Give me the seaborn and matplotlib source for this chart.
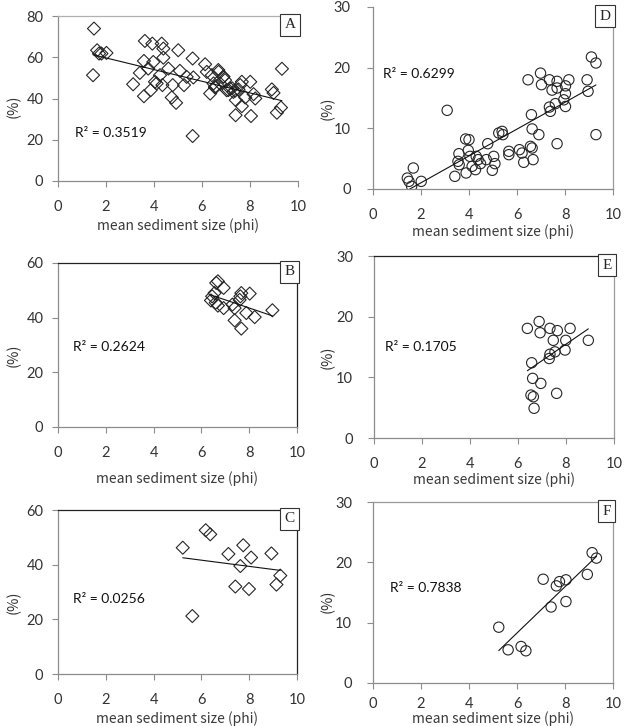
import matplotlib
matplotlib.use("Agg")
import matplotlib.pyplot as plt
import seaborn as sns
import pandas as pd

# Panel A: all samples (diamonds)
a_x = [1.50, 1.46, 1.63, 1.71, 1.81, 2.02, 3.13, 3.41, 3.58, 3.62,
       3.58, 3.93, 3.97, 3.86, 3.76, 4.04, 4.11, 4.25, 4.32, 4.39,
       4.39, 4.35, 4.60, 4.78, 4.74, 4.92, 5.01, 5.08, 5.25, 5.36,
       5.61, 5.64, 5.61, 6.13, 6.20, 6.34, 6.41, 6.48, 6.55, 6.69,
       6.75, 6.89, 6.96, 7.03, 7.17, 7.31, 7.41, 7.40, 7.52, 7.59,
       7.66, 7.66, 7.80, 8.01, 8.04, 8.15, 8.22, 8.91, 8.98, 9.12,
       9.29, 9.33, 6.68, 6.89, 6.54, 7.10, 7.25, 7.38]
a_y = [73.9, 51.3, 63.4, 61.8, 61.8, 62.1, 46.9, 52.4, 58.2, 67.9,
       41.1, 66.6, 57.7, 44.0, 54.5, 48.1, 47.3, 51.3, 66.6, 64.2,
       59.8, 46.5, 54.5, 46.5, 40.5, 37.9, 63.4, 53.4, 46.5, 50.5,
       59.4, 50.2, 21.8, 56.6, 52.9, 42.4, 51.3, 47.3, 45.3, 52.9,
       47.3, 50.5, 48.9, 44.0, 44.8, 43.2, 39.2, 31.9, 44.4, 46.5,
       48.1, 36.3, 40.5, 48.1, 31.5, 42.1, 40.0, 44.4, 42.7, 33.1,
       35.6, 54.4, 53.8, 50.6, 45.7, 44.1, 45.0, 43.8]

# Panel B
b_x = [6.40, 6.45, 6.55, 6.62, 6.69, 6.69, 6.93, 6.93, 7.30, 7.39,
       7.39, 7.63, 7.67, 7.67, 7.88, 8.02, 8.23, 8.97, 6.60, 7.60]
b_y = [46.3, 47.8, 49.0, 52.7, 53.3, 44.4, 50.9, 43.5, 44.8, 43.5,
       39.0, 47.8, 36.0, 49.0, 41.7, 48.8, 40.2, 42.7, 45.5, 46.5]

# Panel C
c_x = [5.22, 5.62, 6.18, 6.37, 7.13, 7.42, 7.63, 7.75, 7.99, 8.08, 8.93, 9.14, 9.30]
c_y = [46.2, 21.2, 52.6, 51.1, 43.9, 32.0, 39.5, 47.1, 31.1, 42.6, 44.1, 32.7, 36.0]

# Panel D: all samples (circles)
d_x = [1.43, 1.50, 1.61, 1.68, 2.01, 3.09, 3.41, 3.58, 3.54, 3.59,
       3.86, 4.00, 3.88, 3.97, 4.04, 4.13, 4.27, 4.30, 4.38, 4.48,
       4.78, 4.72, 5.03, 5.08, 4.97, 5.24, 5.38, 5.41, 5.66, 5.66,
       6.10, 6.21, 6.28, 6.46, 6.60, 6.63, 6.56, 6.63, 6.67, 6.98,
       7.02, 6.91, 7.35, 7.46, 7.67, 7.67, 7.67, 7.35, 7.39, 7.60,
       8.02, 8.02, 7.95, 8.16, 8.92, 8.96, 9.10, 9.29, 9.29, 8.02]
d_y = [1.80, 1.26, 0.44, 3.46, 1.26, 12.97, 2.09, 5.82, 4.56, 4.00,
       8.24, 8.13, 2.64, 6.37, 5.38, 3.74, 3.19, 5.38, 4.84, 4.18,
       7.47, 4.84, 5.38, 4.18, 3.08, 9.23, 9.50, 8.96, 6.21, 5.66,
       6.48, 5.93, 4.40, 18.0, 12.25, 9.90, 7.03, 6.76, 4.84, 19.1,
       17.2, 8.96, 18.0, 16.3, 17.75, 16.65, 7.47, 13.5, 12.8, 14.07,
       17.0, 13.6, 14.7, 18.0, 18.0, 16.1, 21.76, 20.77, 8.96, 15.7]

# Panel E
e_x = [6.39, 6.88, 6.92, 7.33, 7.64, 8.17, 7.47, 7.99, 8.93, 7.96,
       7.54, 7.33, 7.30, 6.57, 6.61, 6.95, 6.54, 6.64, 7.61, 6.67]
e_y = [18.07, 19.2, 17.35, 18.07, 17.7, 18.07, 16.1, 16.1, 16.1, 14.5,
       14.2, 13.8, 13.1, 12.4, 9.83, 9.0, 7.08, 6.8, 7.36, 4.9]

# Panel F
f_x = [5.24, 5.63, 6.17, 6.37, 7.09, 7.42, 7.64, 7.77, 8.04, 8.04, 8.93, 9.13, 9.31]
f_y = [9.25, 5.50, 6.05, 5.34, 17.2, 12.6, 16.1, 16.8, 17.1, 13.5, 18.0, 21.6, 20.7]

r2_labels = ['R\u00b2 = 0.3519', 'R\u00b2 = 0.2624', 'R\u00b2 = 0.0256',
             'R\u00b2 = 0.6299', 'R\u00b2 = 0.1705', 'R\u00b2 = 0.7838']
panel_letters = ['A', 'B', 'C', 'D', 'E', 'F']
x_label = 'mean sediment size (phi)'
y_label = '(%)'

sns.set_theme(style="white")
plt.rcParams['font.family'] = ['Lato', 'DejaVu Sans']

fig = plt.figure(figsize=(6.24, 7.26), dpi=100)

W, H = 624.0, 726.0


def draw_panel(px, x, y, marker, size, ymax, ystep, letter, r2, r2pos,
               top_col, right_col, ypad, xlab_y, ylab_pos, xpad=10):
    left, right, top, bottom = px
    ax = fig.add_axes([left / W, 1 - bottom / H, (right - left) / W, (bottom - top) / H])
    df = pd.DataFrame({'x': x, 'y': y})
    sns.regplot(data=df, x='x', y='y', ax=ax, ci=None, truncate=True, marker=marker,
                scatter_kws=dict(s=size, facecolors='none', edgecolors='#262626',
                                 linewidths=0.8, alpha=1),
                line_kws=dict(color='#111111', lw=0.8))
    ax.set_xlim(0, 10)
    ax.set_ylim(0, ymax)
    ax.set_xticks(range(0, 11, 2))
    ax.set_yticks(range(0, ymax + 1, ystep))
    ax.tick_params(axis='both', which='both', bottom=True, left=True, direction='out',
                   length=4, width=0.8, color='#8c8c8c', labelsize=10.5,
                   labelcolor='#333333')
    ax.tick_params(axis='x', pad=xpad)
    ax.tick_params(axis='y', pad=ypad)
    for side in ['left', 'bottom']:
        ax.spines[side].set_color('#8c8c8c')
        ax.spines[side].set_linewidth(0.9)
    for side, col in [('top', top_col), ('right', right_col)]:
        if col is None:
            ax.spines[side].set_visible(False)
        else:
            ax.spines[side].set_color(col)
            ax.spines[side].set_linewidth(0.9)
    ax.set_xlabel(x_label, fontsize=10, color='#3a3a3a',
                  family=['Noto Sans CJK KR', 'DejaVu Sans'])
    ax.xaxis.set_label_coords(0.5, xlab_y)
    ax.set_ylabel(y_label, fontsize=10.5, color='#333333',
                  family=['Noto Sans CJK KR', 'DejaVu Sans'])
    ax.yaxis.set_label_coords(ylab_pos[0], ylab_pos[1])
    ax.text(r2pos[0], r2pos[1], r2, transform=ax.transAxes, fontsize=10,
            color='#111111', ha='left', va='center')
    ax.text(0.99, 0.985, letter, transform=ax.transAxes, fontsize=11,
            family=['Liberation Serif', 'DejaVu Serif'], ha='right', va='top',
            bbox=dict(boxstyle='square,pad=0.3', fc='white', ec='#333333', lw=0.8))
    ax.grid(False)
    return ax


draw_panel((58, 298, 16, 181), a_x, a_y, 'D', 44, 80, 20, panel_letters[0], r2_labels[0],
           (0.07, 0.29), '#b0b0b0', None, 6.5, -0.225, (-0.155, 0.45))
draw_panel((58, 297, 263, 427), b_x, b_y, 'D', 44, 60, 20, panel_letters[1], r2_labels[1],
           (0.063, 0.49), '#222222', '#222222', 6.5, -0.27, (-0.155, 0.44))
draw_panel((58, 297, 510, 674), c_x, c_y, 'D', 44, 60, 20, panel_letters[2], r2_labels[2],
           (0.063, 0.457), '#222222', '#222222', 6.5, -0.228, (-0.155, 0.44))
draw_panel((373, 613, 7, 189), d_x, d_y, 'o', 55, 30, 10, panel_letters[3], r2_labels[3],
           (0.042, 0.632), None, '#9a9a9a', 12, -0.195, (-0.16, 0.445))
draw_panel((374, 614, 256, 438), e_x, e_y, 'o', 55, 30, 10, panel_letters[4], r2_labels[4],
           (0.046, 0.5), '#222222', '#9a9a9a', 11, -0.187, (-0.165, 0.445))
draw_panel((373, 613, 502, 683), f_x, f_y, 'o', 55, 30, 10, panel_letters[5], r2_labels[5],
           (0.071, 0.525), '#9a9a9a', '#9a9a9a', 11, -0.155, (-0.16, 0.45), xpad=6)

fig.savefig('out.png', dpi=100)
plt.close(fig)
